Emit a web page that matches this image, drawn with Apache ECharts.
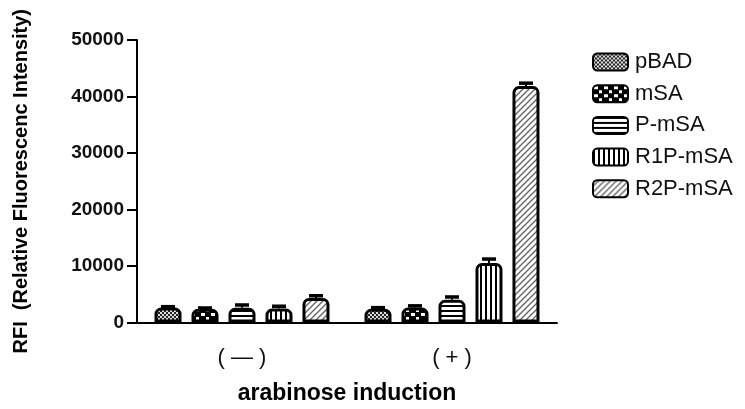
<!DOCTYPE html>
<html>
<head>
<meta charset="utf-8">
<script src="https://cdn.jsdelivr.net/npm/echarts@6/dist/echarts.min.js"></script>
<style>html,body{margin:0;padding:0;background:#fff}#c{width:745px;height:409px}</style>
</head>
<body>
<div id="c"></div>
<script>
var categories = ['( \u2014 )', '( + )'];
var seriesNames = ['pBAD', 'mSA', 'P-mSA', 'R1P-mSA', 'R2P-mSA'];
var pBAD = [2650, 2430];
var mSA = [2420, 2650];
var PmSA = [2600, 4020];
var R1PmSA = [2480, 10530];
var R2PmSA = [4330, 41860];
var pBADErr = [150, 200];
var mSAErr = [150, 300];
var PmSAErr = [500, 500];
var R1PmSAErr = [400, 700];
var R2PmSAErr = [400, 500];
var yTicks = [0, 10000, 20000, 30000, 40000, 50000];

function makePattern(w, h, draw) {
  var c = document.createElement('canvas');
  c.width = w; c.height = h;
  var ctx = c.getContext('2d');
  draw(ctx, w, h);
  return { image: c, repeat: 'repeat' };
}
var patDots = makePattern(4, 4, function (ctx) {
  ctx.fillStyle = '#222'; ctx.fillRect(0, 0, 4, 4);
  ctx.fillStyle = '#ddd'; ctx.fillRect(0, 0, 2, 2); ctx.fillRect(2, 2, 2, 2);
});
var patChecker = makePattern(10, 8, function (ctx) {
  ctx.fillStyle = '#000'; ctx.fillRect(0, 0, 10, 8);
  ctx.fillStyle = '#fff'; ctx.fillRect(1, 1, 4, 3); ctx.fillRect(6, 5, 3, 3);
});
var patHoriz = makePattern(4, 5, function (ctx) {
  ctx.fillStyle = '#fff'; ctx.fillRect(0, 0, 4, 5);
  ctx.fillStyle = '#000'; ctx.fillRect(0, 0, 4, 2);
});
var patVert = makePattern(5, 4, function (ctx) {
  ctx.fillStyle = '#fff'; ctx.fillRect(0, 0, 5, 4);
  ctx.fillStyle = '#000'; ctx.fillRect(0, 0, 2, 4);
});
var patDiag = makePattern(6, 6, function (ctx) {
  ctx.fillStyle = '#fff'; ctx.fillRect(0, 0, 6, 6);
  ctx.strokeStyle = '#666'; ctx.lineWidth = 1.4;
  ctx.beginPath();
  ctx.moveTo(-1, 7); ctx.lineTo(7, -1);
  ctx.moveTo(-4, 4); ctx.lineTo(4, -4);
  ctx.moveTo(2, 10); ctx.lineTo(10, 2);
  ctx.stroke();
});

var values = [pBAD, mSA, PmSA, R1PmSA, R2PmSA];
var errs = [pBADErr, mSAErr, PmSAErr, R1PmSAErr, R2PmSAErr];
var patterns = [patDots, patChecker, patHoriz, patVert, patDiag];
var BAR_W = 27, STEP = 37;

var series = [];
seriesNames.forEach(function (name, i) {
  series.push({
    name: name, type: 'bar', data: values[i], barWidth: BAR_W, barGap: '37%',
    itemStyle: { color: patterns[i], borderColor: '#000', borderWidth: 3, borderRadius: [5, 5, 0, 0] },
    z: 2
  });
});
var errData = [];
seriesNames.forEach(function (name, i) {
  values[i].forEach(function (v, j) { errData.push([j, v, errs[i][j], i]); });
});
series.push({
  type: 'custom', data: errData, z: 5, silent: true,
  renderItem: function (params, api) {
    var c = api.value(0), v = api.value(1), e = api.value(2), si = api.value(3);
    var base = api.coord([c, v]);
    var top = api.coord([c, v + e]);
    var x = base[0] + (si - 2) * STEP;
    return {
      type: 'group', children: [
        { type: 'line', shape: { x1: x, y1: base[1], x2: x, y2: top[1] }, style: { stroke: '#000', lineWidth: 2 } },
        { type: 'line', shape: { x1: x - 7, y1: top[1], x2: x + 7, y2: top[1] }, style: { stroke: '#000', lineWidth: 3.5 } }
      ]
    };
  }
});

var chart = echarts.init(document.getElementById('c'), null, { renderer: 'canvas' });
chart.setOption({
  animation: false,
  textStyle: { fontFamily: 'Liberation Sans, Arial, sans-serif' },
  grid: { left: 137, top: 40, width: 420, height: 282.5, outerBoundsMode: 'none', containLabel: false },
  legend: {
    data: seriesNames, orient: 'vertical', left: 587, top: 46,
    itemWidth: 35, itemHeight: 17, itemGap: 9.7,
    textStyle: { fontSize: 22, color: '#111', padding: [0, 0, 0, 2] },
    icon: 'roundRect'
  },
  xAxis: {
    type: 'category', data: categories,
    name: 'arabinose induction', nameLocation: 'middle', nameGap: 60,
    nameTextStyle: { fontSize: 23, fontWeight: 'bold', color: '#000' },
    axisLine: { lineStyle: { color: '#000', width: 2 } },
    axisTick: { alignWithLabel: true, length: 8, lineStyle: { color: '#000', width: 2 } },
    axisLabel: { fontSize: 22, color: '#111', margin: 24 }
  },
  yAxis: {
    type: 'value', min: 0, max: 50000, interval: 10000,
    name: 'RFI  (Relative Fluorescenc Intensity)', nameLocation: 'middle', nameGap: 106,
    nameTextStyle: { fontSize: 20, fontWeight: 'bold', color: '#000' },
    axisLine: { show: true, lineStyle: { color: '#000', width: 2 } },
    axisTick: { show: true, length: 10, inside: false, lineStyle: { color: '#000', width: 2 } },
    axisLabel: { fontSize: 19, fontWeight: 'bold', color: '#111', margin: 13,
      formatter: function (v) { return yTicks.indexOf(v) >= 0 ? String(v) : ''; } },
    splitLine: { show: false }
  },
  series: series
});
</script>
</body>
</html>
